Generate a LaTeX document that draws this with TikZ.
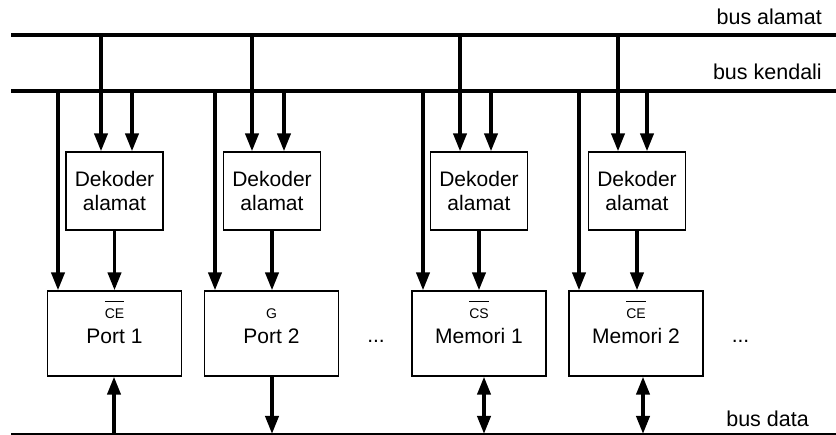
\documentclass[tikz,border=0pt]{standalone}
\usepackage{fontspec}
\setmainfont{Liberation Sans}
\usetikzlibrary{arrows.meta}

% active-low signal name with a bar above it
\newcommand{\barsig}[1]{\setbox0=\hbox{#1}\vbox{\hrule width\wd0 height 1.1pt\kern 7pt\box0}}

\begin{document}
\begin{tikzpicture}[x=1pt,y=-1pt,
  >={Triangle[length=18pt,width=13pt]},
  bus/.style={line width=4pt},
  thinbus/.style={line width=1.3pt},
  wire/.style={line width=3.8pt},
  decbox/.style={draw,line width=1.2pt,minimum width=97pt,minimum height=78pt,
    inner sep=0pt,align=center,font=\fontsize{21pt}{24pt}\selectfont},
  unitbox/.style={draw,line width=1.2pt,minimum width=134pt,minimum height=85pt,inner sep=0pt},
  bigtext/.style={inner sep=0pt,font=\fontsize{21pt}{24pt}\selectfont},
  bustext/.style={inner sep=0pt,font=\fontsize{21.5pt}{24pt}\selectfont},
  sigtext/.style={inner sep=0pt,font=\fontsize{14pt}{16pt}\selectfont}
]
\useasboundingbox (0,0) rectangle (836,435);

% buses
\coordinate (A0) at (11,35.5);  \coordinate (A1) at (836,35.5);
\coordinate (K0) at (11,91);    \coordinate (K1) at (836,91);
\coordinate (D0) at (11,434);   \coordinate (D1) at (836,434);
\draw[bus] (A0) -- (A1);
\draw[bus] (K0) -- (K1);
\draw[thinbus] (D0) -- (D1);

\node[bustext,anchor=base east] (lalamat) at (822,25) {bus alamat};
\node[bustext,anchor=base east] (lkendali) at (822,80) {bus kendali};
\node[bustext,anchor=base east] (ldata) at (809,427) {bus data};

% address decoders
\node[decbox] (dec1) at (114.5,191) {Dekoder\\alamat};
\node[decbox] (dec2) at (272,191)   {Dekoder\\alamat};
\node[decbox] (dec3) at (479,191)   {Dekoder\\alamat};
\node[decbox] (dec4) at (637,191)   {Dekoder\\alamat};

% ports and memories
\node[unitbox] (p1) at (114.5,333.5) {};
\node[unitbox] (p2) at (271.5,333.5) {};
\node[unitbox] (m1) at (479,333.5)   {};
\node[unitbox] (m2) at (636,333.5)   {};

\node[sigtext,anchor=base] (sp1) at ([yshift=14.5pt]p1.center) {\barsig{CE}};
\node[sigtext,anchor=base] (sp2) at ([yshift=14.5pt]p2.center) {G};
\node[sigtext,anchor=base] (sm1) at ([yshift=14.5pt]m1.center) {\barsig{CS}};
\node[sigtext,anchor=base] (sm2) at ([yshift=14.5pt]m2.center) {\barsig{CE}};

\node[bigtext,anchor=base] (np1) at ([yshift=-10.5pt]p1.center) {Port 1};
\node[bigtext,anchor=base] (np2) at ([yshift=-10.5pt]p2.center) {Port 2};
\node[bigtext,anchor=base] (nm1) at ([yshift=-10pt]m1.center)   {Memori 1};
\node[bigtext,anchor=base] (nm2) at ([yshift=-10pt]m2.center)   {Memori 2};

\node[bigtext,anchor=base] (dots1) at (376,343) {...};
\node[bigtext,anchor=base] (dots2) at (740.5,343) {...};

% bus taps: address, control to decoder, control to unit
\foreach \d/\u/\a/\k/\c in {dec1/p1/101/132/58, dec2/p2/252/284/215,
                            dec3/m1/460/491/423, dec4/m2/618/647/579}{
  \coordinate (ta\d) at (\a,35.5);
  \coordinate (tk\d) at (\k,91);
  \coordinate (tc\d) at (\c,91);
  \draw[wire,->] (ta\d) -- (ta\d |- \d.north);
  \draw[wire,->] (tk\d) -- (tk\d |- \d.north);
  \draw[wire,->] (tc\d) -- (tc\d |- \u.north);
  \draw[wire,->] (\d.south) -- (\d.south |- \u.north);
}

% data bus connections
\coordinate (dp1) at (114,434);
\coordinate (dp2) at (272,434);
\coordinate (dm1) at (484,434);
\coordinate (dm2) at (643,434);
\draw[wire,->]  (dp1) -- (dp1 |- p1.south);
\draw[wire,->]  (dp2 |- p2.south) -- (dp2);
\draw[wire,<->] (dm1 |- m1.south) -- (dm1);
\draw[wire,<->] (dm2 |- m2.south) -- (dm2);
\end{tikzpicture}
\end{document}
